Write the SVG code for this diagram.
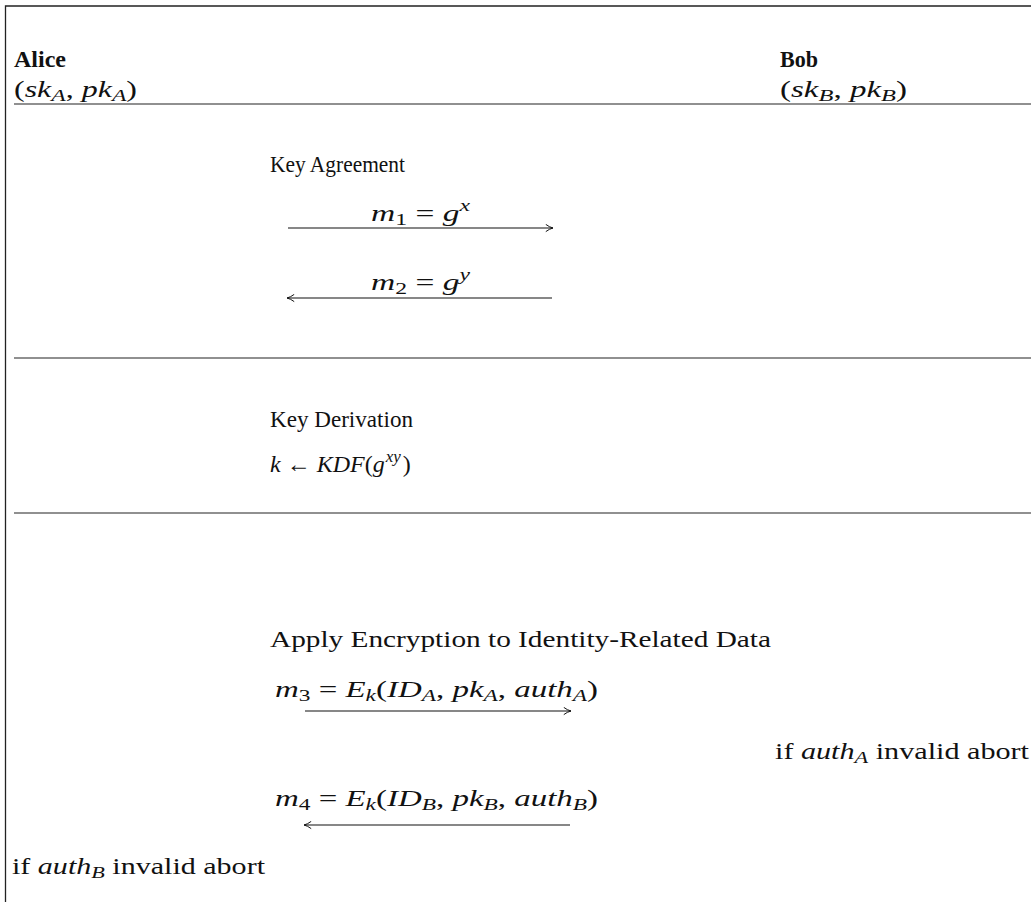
<svg xmlns="http://www.w3.org/2000/svg" width="1031" height="902" viewBox="0 0 1031 902">
<style>
text{font-family:"Liberation Serif","DejaVu Serif",serif;font-size:23px;fill:#111}
.b{font-weight:bold}
.i{font-style:italic}
.s{font-size:17px}
.m{font-size:24px}
.frame{stroke:#222;stroke-width:1.3;fill:none}
.rule{stroke:#222;stroke-width:1.2;fill:none}
.arr{stroke:#111;stroke-width:1.1;fill:none}
</style>
<defs>
<marker id="ah" viewBox="0 0 10 10" refX="9" refY="5" markerWidth="9" markerHeight="9" markerUnits="userSpaceOnUse" orient="auto-start-reverse">
<path d="M1,1 Q5,4 9,5 Q5,6 1,9" fill="none" stroke="#111" stroke-width="1.1"/>
</marker>
</defs>
<g id="frame">
<path class="frame" d="M5.5,902 V6 H1031"/>
<line class="rule" x1="14" y1="104" x2="1031" y2="104"/>
<line class="rule" x1="14" y1="358" x2="1031" y2="358"/>
<line class="rule" x1="14" y1="513" x2="1031" y2="513"/>
</g>
<g id="alice">
<text class="b" x="14" y="67" textLength="52" lengthAdjust="spacingAndGlyphs">Alice</text>
<text x="14" y="97" textLength="123" lengthAdjust="spacingAndGlyphs">(<tspan class="i">sk</tspan><tspan class="i s" dy="4">A</tspan><tspan dy="-4">, </tspan><tspan class="i">pk</tspan><tspan class="i s" dy="4">A</tspan><tspan dy="-4">)</tspan></text>
</g>
<g id="bob">
<text class="b" x="780" y="67" textLength="38" lengthAdjust="spacingAndGlyphs">Bob</text>
<text x="780" y="97" textLength="127" lengthAdjust="spacingAndGlyphs">(<tspan class="i">sk</tspan><tspan class="i s" dy="4">B</tspan><tspan dy="-4">, </tspan><tspan class="i">pk</tspan><tspan class="i s" dy="4">B</tspan><tspan dy="-4">)</tspan></text>
</g>
<g id="key-agreement">
<text x="270" y="172" textLength="135" lengthAdjust="spacingAndGlyphs">Key Agreement</text>
<text class="m" x="371" y="221" textLength="99" lengthAdjust="spacingAndGlyphs"><tspan class="i">m</tspan><tspan class="s" dy="4">1</tspan><tspan dy="-4"> = </tspan><tspan class="i">g</tspan><tspan class="i s" dy="-10">x</tspan></text>
<text class="m" x="371" y="290" textLength="99" lengthAdjust="spacingAndGlyphs"><tspan class="i">m</tspan><tspan class="s" dy="4">2</tspan><tspan dy="-4"> = </tspan><tspan class="i">g</tspan><tspan class="i s" dy="-10">y</tspan></text>
</g>
<g id="key-derivation">
<text x="270" y="427" textLength="143" lengthAdjust="spacingAndGlyphs">Key Derivation</text>
<text class="m" x="270" y="472"><tspan class="i">k</tspan> ← <tspan class="i">KDF</tspan>(<tspan class="i">g</tspan><tspan class="i s" dx="1" dy="-10">xy</tspan><tspan dx="2" dy="10">)</tspan></text>
</g>
<g id="encryption">
<text x="270" y="647" textLength="501" lengthAdjust="spacingAndGlyphs">Apply Encryption to Identity-Related Data</text>
<text class="m" x="275" y="697" textLength="323" lengthAdjust="spacingAndGlyphs"><tspan class="i">m</tspan><tspan class="s" dy="4">3</tspan><tspan dy="-4"> = </tspan><tspan class="i">E</tspan><tspan class="i s" dy="4">k</tspan><tspan dy="-4">(</tspan><tspan class="i">ID</tspan><tspan class="i s" dy="4">A</tspan><tspan dy="-4">, </tspan><tspan class="i">pk</tspan><tspan class="i s" dy="4">A</tspan><tspan dy="-4">, </tspan><tspan class="i">auth</tspan><tspan class="i s" dy="4">A</tspan><tspan dy="-4">)</tspan></text>
<text x="775" y="759" textLength="254" lengthAdjust="spacingAndGlyphs">if <tspan class="i">auth</tspan><tspan class="i s" dy="4">A</tspan><tspan dy="-4"> invalid abort</tspan></text>
<text class="m" x="275" y="806" textLength="323" lengthAdjust="spacingAndGlyphs"><tspan class="i">m</tspan><tspan class="s" dy="4">4</tspan><tspan dy="-4"> = </tspan><tspan class="i">E</tspan><tspan class="i s" dy="4">k</tspan><tspan dy="-4">(</tspan><tspan class="i">ID</tspan><tspan class="i s" dy="4">B</tspan><tspan dy="-4">, </tspan><tspan class="i">pk</tspan><tspan class="i s" dy="4">B</tspan><tspan dy="-4">, </tspan><tspan class="i">auth</tspan><tspan class="i s" dy="4">B</tspan><tspan dy="-4">)</tspan></text>
<text x="12" y="874" textLength="253" lengthAdjust="spacingAndGlyphs">if <tspan class="i">auth</tspan><tspan class="i s" dy="4">B</tspan><tspan dy="-4"> invalid abort</tspan></text>
</g>
<g id="connectors">
<line class="arr" x1="288" y1="228" x2="553" y2="228" marker-end="url(#ah)"/>
<line class="arr" x1="552" y1="298" x2="287" y2="298" marker-end="url(#ah)"/>
<line class="arr" x1="305" y1="711" x2="571" y2="711" marker-end="url(#ah)"/>
<line class="arr" x1="570" y1="825" x2="304" y2="825" marker-end="url(#ah)"/>
</g>
</svg>
